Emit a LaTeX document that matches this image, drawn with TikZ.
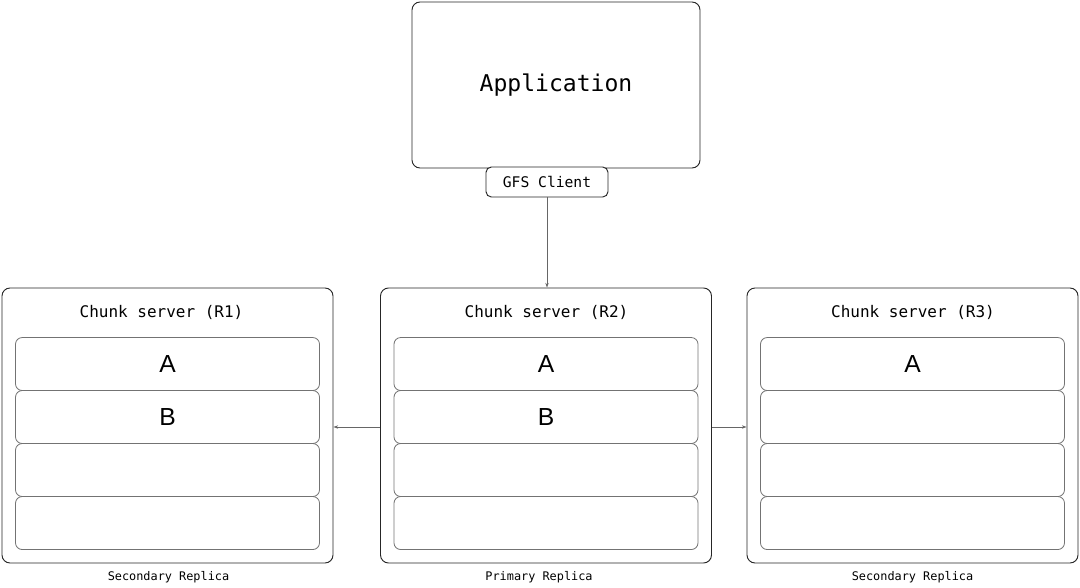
\documentclass[tikz,border=0pt]{standalone}
\usepackage{fontspec}
\setmainfont{DejaVu Sans Mono}
\newfontfamily\cellfont{Liberation Sans}
\usetikzlibrary{
  calc, % For coordinate calculations
  arrows.meta % For arrow tips
}

\begin{document}
\begin{tikzpicture}[
      x=0.75pt, y=-0.75pt, % 1 unit = 1 px of the drawing
      >={Stealth[length=3.5pt,width=2.5pt]}, % Default arrow tip
      box/.style={draw=black!85, line width=0.7pt, rounded corners=6pt, inner sep=0pt},
      cell/.style={draw=black!55, line width=0.6pt, rounded corners=5pt, inner sep=0pt,
        minimum width=304*0.75pt, minimum height=53*0.75pt, font=\cellfont\fontsize{18.5}{20}\selectfont},
      link/.style={draw=black!60, line width=0.5pt, ->},
      title/.style={font=\fontsize{12}{14}\selectfont},
      caption/.style={font=\fontsize{8.9}{10}\selectfont},
    ]

    % Rahmen
    \useasboundingbox (0,0) rectangle (1080,588);

    % Anwendung mit Client
    \node[box, minimum width=288*0.75pt, minimum height=166*0.75pt,
      font=\fontsize{17.3}{20}\selectfont] (app) at (556,85) {Application};
    \node[box, rounded corners=4pt, fill=white, minimum width=122*0.75pt, minimum height=30*0.75pt,
      font=\fontsize{11}{13}\selectfont] (client) at (547,182) {GFS Client};

    % Chunk-Server
    \foreach \s/\x/\tx/\rx/\role in {1/167.5/161.5/168.5/Secondary Replica,
        2/546/546.5/539/Primary Replica, 3/912.5/913/912.5/Secondary Replica} {
      \node[box, minimum width=331*0.75pt, minimum height=275*0.75pt] (srv\s) at (\x,425.5) {};
      \node[title] (name\s) at (\tx,312) {Chunk server (R\s)};
      \node[caption] (role\s) at (\rx,577) {\role};
    }

    % Chunks
    \foreach \s/\r/\c in {1/1/A, 1/2/B, 1/3/, 1/4/, 2/1/A, 2/2/B, 2/3/, 2/4/, 3/1/A, 3/2/, 3/3/, 3/4/}
      \node[cell] (srv\s c\r) at ($(srv\s.north)+(0,{50+26.5+53*(\r-1)})$) {\c};

    % Datenfluss
    \draw[link] (client.south) -- (client.south |- srv2.north);
    \draw[link] (srv2.west |- 0,427) -- (srv1.east |- 0,427);
    \draw[link] (srv2.east |- 0,427) -- (srv3.west |- 0,427);

  \end{tikzpicture}
\end{document}
